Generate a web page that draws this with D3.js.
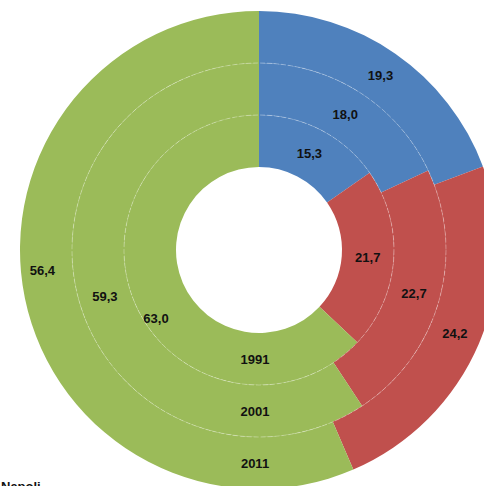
<!DOCTYPE html>
<html>
<head>
<meta charset="utf-8">
<script src="https://cdn.jsdelivr.net/npm/d3@7"></script>
<style>
  html, body { margin: 0; padding: 0; background: #fff; }
  svg { display: block; }
  text { font-family: "Liberation Sans", Arial, sans-serif; font-weight: bold; fill: #111; }
</style>
</head>
<body>
<svg id="chart" width="484" height="486"></svg>
<script>
// Census years, innermost ring first
const years = ["1991", "2001", "2011"];
// Share (%) of each group per census year
const groupA = [15.3, 18.0, 19.3];
const groupB = [21.7, 22.7, 24.2];
const groupC = [63.0, 59.3, 56.4];
const groupColors = ["#4F81BD", "#C0504D", "#9BBB59"];
const placeName = "Napoli";

const svg = d3.select("#chart");
const cx = 259, cy = 250;
const innerR = 83, ringW = 52;
const labelSize = 13;

// hand-placed nudges for the large green labels, keyed "ring-segment"
const labelNudge = { "0-2": [-3, 25], "2-2": [-8, -22] };

const g = svg.append("g").attr("transform", `translate(${cx},${cy})`);

const pie = d3.pie().sort(null).value(d => d);
const fmt = v => d3.format(".1f")(v).replace(".", ",");

years.forEach((year, i) => {
  const values = [groupA[i], groupB[i], groupC[i]];
  const r0 = innerR + i * ringW, r1 = r0 + ringW;
  const arc = d3.arc().innerRadius(r0).outerRadius(r1);
  const arcs = pie(values);

  const ring = g.append("g");
  ring.selectAll("path")
    .data(arcs)
    .join("path")
    .attr("d", arc)
    .attr("fill", (d, k) => groupColors[k]);

  ring.selectAll("text.val")
    .data(arcs)
    .join("text")
    .attr("class", "val")
    .attr("transform", (d, k) => {
      const [x, y] = arc.centroid(d);
      const [nx, ny] = labelNudge[`${i}-${k}`] || [0, 0];
      return `translate(${x + nx},${y + ny})`;
    })
    .attr("text-anchor", "middle")
    .attr("dy", "0.35em")
    .attr("font-size", labelSize)
    .text(d => fmt(d.data));

  // year label at the bottom of its ring
  const mid = (r0 + r1) / 2;
  ring.append("text")
    .attr("x", -4)
    .attr("y", mid)
    .attr("text-anchor", "middle")
    .attr("dy", "0.35em")
    .attr("font-size", labelSize)
    .text(year);
});

// faint separators between rings
[1, 2].forEach(k => {
  g.append("circle")
    .attr("r", innerR + k * ringW)
    .attr("fill", "none")
    .attr("stroke", "#ffffff")
    .attr("stroke-opacity", 0.3)
    .attr("stroke-width", 1)
    .attr("stroke-dasharray", "5,2");
});

svg.append("text")
  .attr("x", 1)
  .attr("y", 491)
  .attr("font-size", labelSize)
  .text(placeName);
</script>
</body>
</html>
